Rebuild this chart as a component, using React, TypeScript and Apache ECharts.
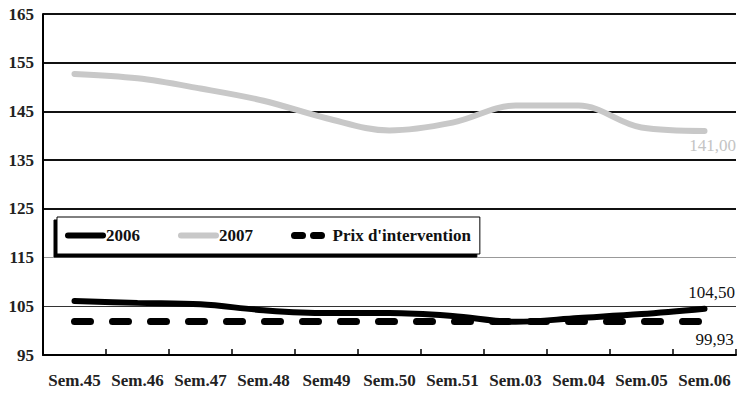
import React, { useEffect, useRef } from 'react';
import * as echarts from 'echarts';

const categories = ['Sem.45', 'Sem.46', 'Sem.47', 'Sem.48', 'Sem49', 'Sem.50', 'Sem.51', 'Sem.03', 'Sem.04', 'Sem.05', 'Sem.06'];
const values2006 = [106.1, 105.7, 105.4, 104.2, 103.6, 103.6, 103.0, 101.8, 102.6, 103.4, 104.5];
const values2007 = [152.7, 151.8, 149.7, 147.2, 143.6, 141.1, 142.7, 146.2, 146.2, 141.7, 141.0];
const valuesIntervention = [101.9, 101.9, 101.9, 101.9, 101.9, 101.9, 101.9, 101.9, 101.9, 101.9, 101.9];
const seriesNames = ['2006', '2007', "Prix d'intervention"];
const endLabels = ['104,50', '141,00', '99,93'];

const FONT = 'Liberation Serif';

export default function App() {
  const ref = useRef<HTMLDivElement>(null);
  useEffect(() => {
    if (!ref.current) return;
    const chart = echarts.init(ref.current, undefined, { renderer: 'svg' });
    const last = categories.length - 1;
    const mp = (vals: number[], text: string, color: string, offset: number[]) => ({
      symbol: 'circle',
      symbolSize: 1,
      itemStyle: { color: 'rgba(0,0,0,0)' },
      label: {
        show: true,
        position: 'inside',
        formatter: text,
        color,
        fontFamily: FONT,
        fontSize: 17,
        offset,
      },
      data: [{ coord: [categories[last], vals[last]] }],
    });
    chart.setOption({
      animation: false,
      backgroundColor: '#fff',
      textStyle: { fontFamily: FONT },
      grid: { left: 43, right: 11, top: 14, bottom: 43 },
      legend: {
        left: 57,
        top: 217,
        orient: 'horizontal',
        padding: [10, 9, 10, 8],
        itemWidth: 35,
        itemHeight: 14,
        itemGap: 38,
        backgroundColor: '#fff',
        borderColor: '#000',
        borderWidth: 1,
        shadowColor: '#000',
        shadowOffsetX: -3,
        shadowOffsetY: 3,
        shadowBlur: 0,
        textStyle: { fontFamily: FONT, fontSize: 17, fontWeight: 'bold', color: '#111', padding: [0, 0, 0, -2] },
        itemStyle: { opacity: 0 },
        lineStyle: { width: 'inherit', cap: 'round' },
        data: [
          { name: seriesNames[0] },
          { name: seriesNames[1] },
          { name: seriesNames[2], lineStyle: { type: [8, 11], width: 7, cap: 'round' } },
        ],
      },
      xAxis: {
        type: 'category',
        data: categories,
        boundaryGap: true,
        axisLine: { lineStyle: { color: '#000', width: 2 } },
        axisTick: { show: true, inside: true, length: 6, lineStyle: { color: '#000', width: 1.5 } },
        axisLabel: { interval: 0, fontFamily: FONT, fontSize: 17, fontWeight: 'bold', color: '#222', margin: 17 },
        splitLine: { show: false },
      },
      yAxis: [
        {
          type: 'value',
          min: 95,
          max: 165,
          interval: 10,
          axisLine: { show: true, lineStyle: { color: '#000', width: 2 } },
          axisTick: { show: false },
          axisLabel: { fontFamily: FONT, fontSize: 17, fontWeight: 'bold', color: '#222', margin: 9 },
          splitLine: {
            show: true,
            lineStyle: {
              width: 2,
              color: ['rgba(0,0,0,0)', 'rgba(0,0,0,0)', 'rgba(0,0,0,0)', '#111', '#111', '#111', '#111', '#111'],
            },
          },
        },
        {
          type: 'value',
          min: 95,
          max: 165,
          interval: 10,
          position: 'left',
          axisLine: { show: false },
          axisTick: { show: false },
          axisLabel: { show: false },
          splitLine: {
            show: true,
            lineStyle: {
              width: 1,
              color: ['rgba(0,0,0,0)', '#333', '#999', 'rgba(0,0,0,0)', 'rgba(0,0,0,0)', 'rgba(0,0,0,0)', 'rgba(0,0,0,0)', 'rgba(0,0,0,0)'],
            },
          },
        },
      ],
      series: [
        {
          name: seriesNames[1],
          type: 'line',
          data: values2007,
          smooth: 0.35,
          showSymbol: false,
          symbol: 'none',
          color: '#c8c8c8',
          lineStyle: { color: '#c8c8c8', width: 6, cap: 'round' },
          markPoint: mp(values2007, endLabels[1], '#c4c4c4', [8, 15]),
          z: 2,
        },
        {
          name: seriesNames[0],
          type: 'line',
          data: values2006,
          smooth: 0.35,
          showSymbol: false,
          symbol: 'none',
          color: '#000',
          lineStyle: { color: '#000', width: 6, cap: 'round' },
          markPoint: mp(values2006, endLabels[0], '#111', [7, -16]),
          z: 3,
        },
        {
          name: seriesNames[2],
          type: 'line',
          data: valuesIntervention,
          showSymbol: false,
          symbol: 'none',
          color: '#000',
          lineStyle: { color: '#000', width: 7, type: [16, 22], cap: 'round' },
          markPoint: mp(valuesIntervention, endLabels[2], '#111', [10, 18]),
          z: 4,
        },
      ],
    });
    return () => chart.dispose();
  }, []);
  return <div ref={ref} style={{ position: 'fixed', left: 0, top: 0, width: 747, height: 398 }} />;
}
